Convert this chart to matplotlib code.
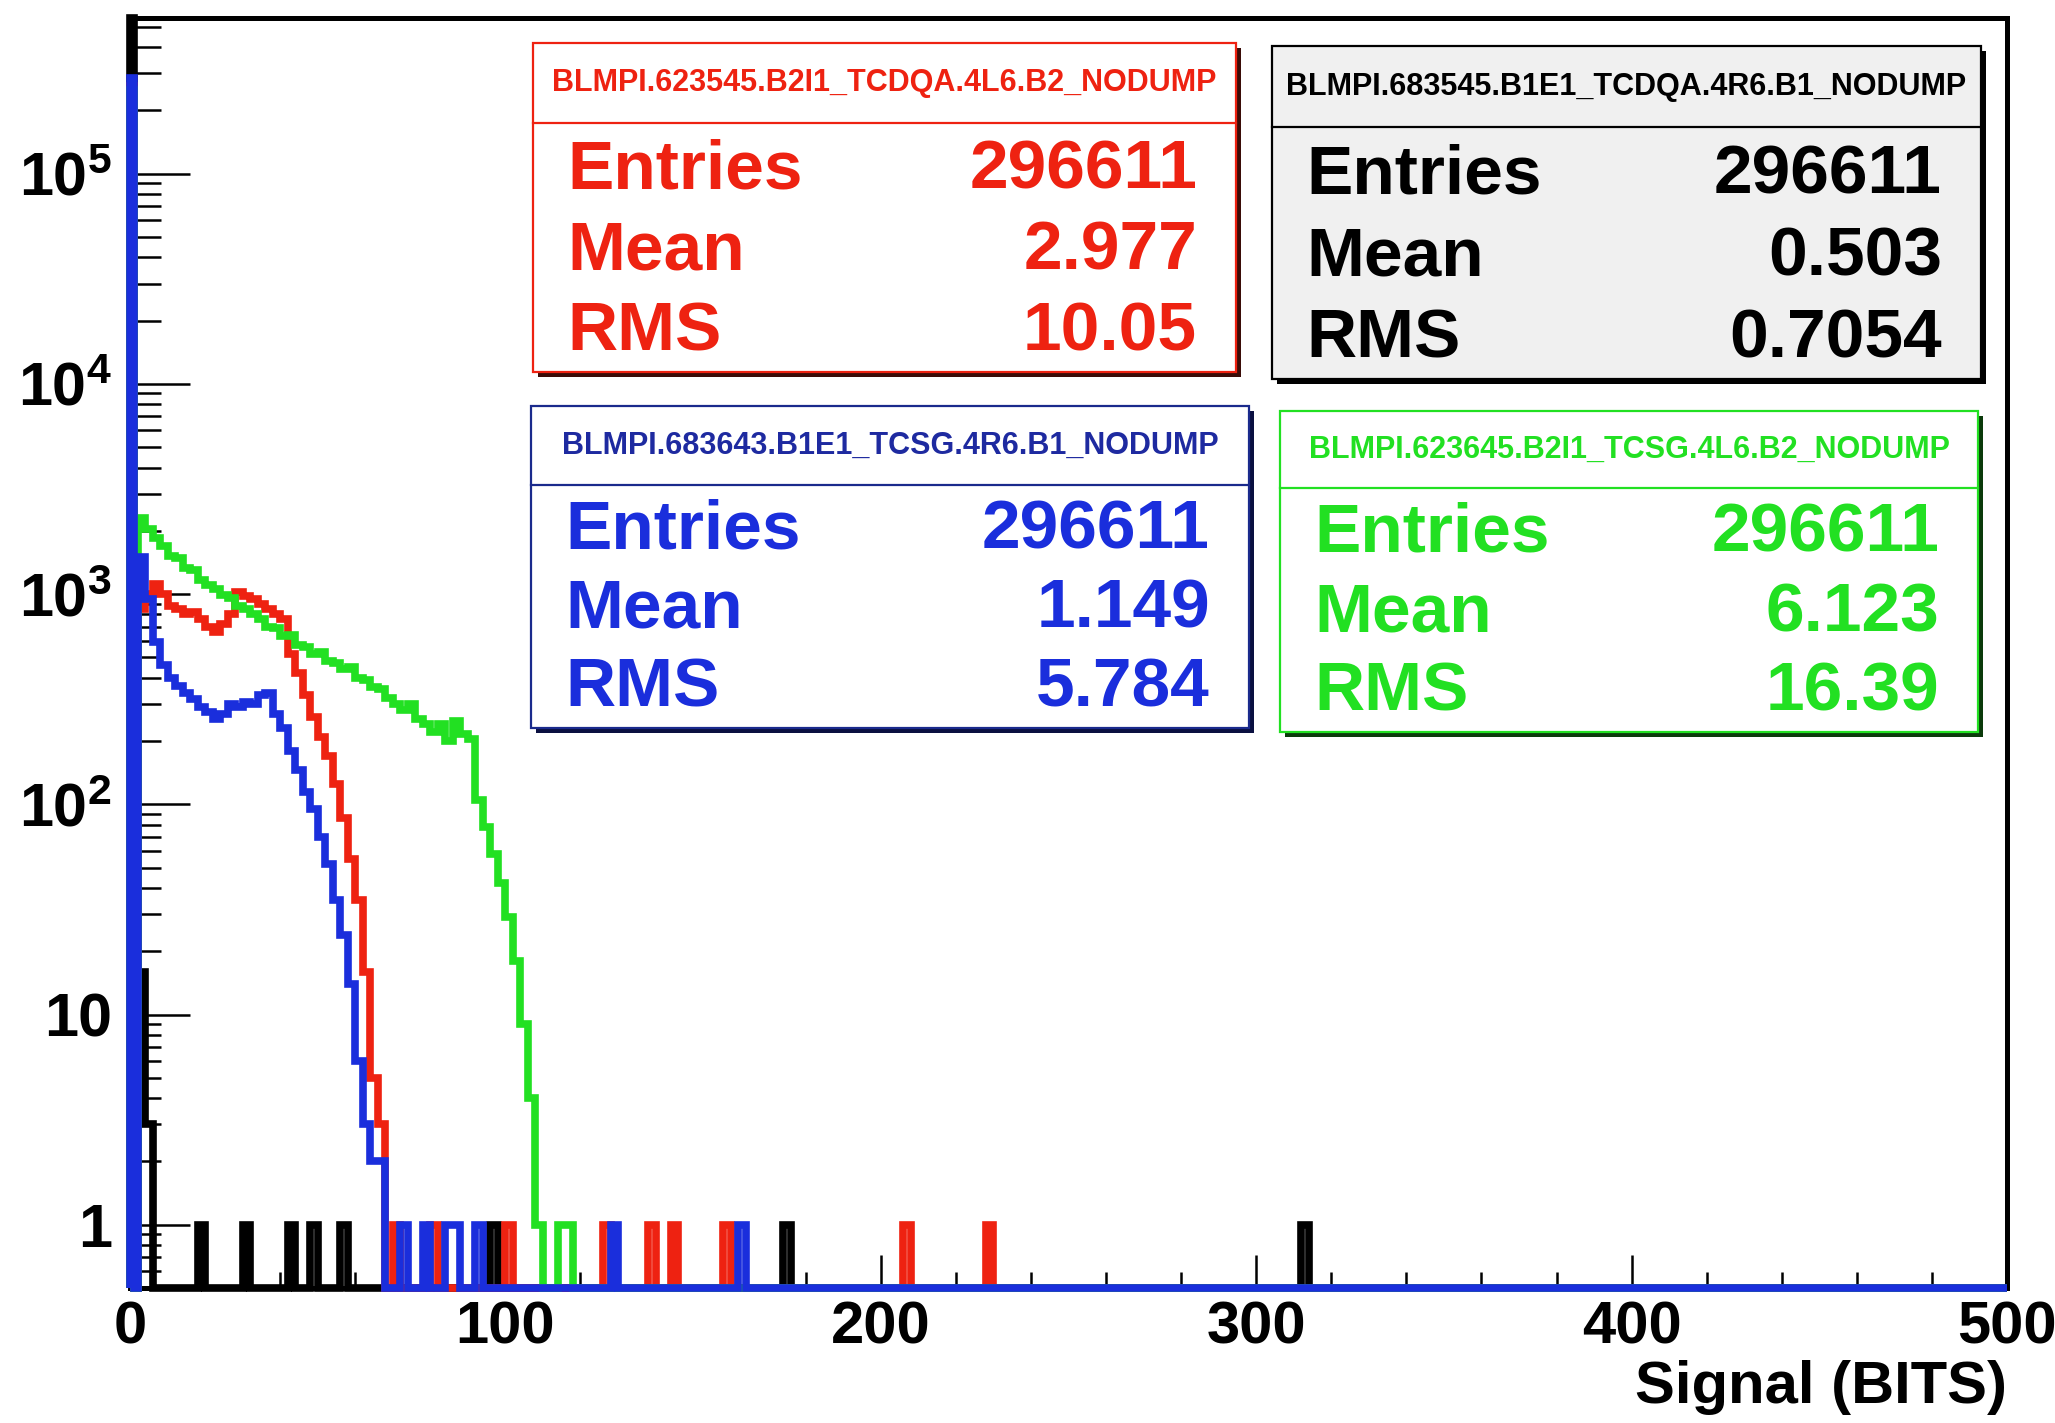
import numpy as np
import matplotlib
matplotlib.use('Agg')
import matplotlib.pyplot as plt
from matplotlib.patches import Rectangle
from matplotlib.ticker import (FixedLocator, FixedFormatter, LogLocator,
                               MultipleLocator, NullFormatter)

plt.rcParams['font.family'] = ['Liberation Sans', 'DejaVu Sans']
plt.rcParams['font.weight'] = 'bold'
plt.rcParams['mathtext.fontset'] = 'custom'
plt.rcParams['mathtext.rm'] = 'Liberation Sans:bold'
plt.rcParams['mathtext.it'] = 'Liberation Sans:bold'
plt.rcParams['mathtext.bf'] = 'Liberation Sans:bold'

# --- histogram data ---
# bins: [0,1), [1,2), then 2-bit bins up to 500
FIRST_EDGES = [0, 1]
BIN_WIDTH = 2
X_MAX = 500
Y_MIN, Y_MAX = 0.5, 5.5e5

# counts of the leading bins ([0,1), [1,2), [2,4), [4,6), ...)
black_head = [550000, 0, 16, 3]
red_head = [260000, 0, 850, 1000, 1120, 1000, 880, 850, 800, 820, 760, 700,
            660, 720, 800, 1020, 980, 950, 900, 850, 800, 760, 520, 420, 330,
            260, 210, 170, 125, 86, 55, 35, 16, 5, 3]
green_head = [250000, 0, 2300, 2050, 1850, 1700, 1520, 1480, 1330, 1300, 1170,
              1110, 1060, 990, 960, 880, 850, 800, 760, 700, 690, 630, 640,
              575, 560, 520, 530, 480, 470, 440, 450, 400, 390, 360, 355, 320,
              300, 280, 300, 255, 240, 220, 240, 200, 250, 215, 205, 105, 78,
              58, 42, 29, 18, 9, 4, 1]
blue_head = [285000, 0, 1500, 950, 590, 460, 400, 365, 340, 317, 290, 275,
             255, 270, 300, 290, 305, 300, 330, 340, 270, 230, 180, 145, 115,
             95, 70, 52, 35, 24, 14, 6, 3, 2, 2]

# lower bin edges of isolated single-entry bins
black_single = [18, 30, 42, 48, 56, 96, 174, 312]
red_single = [70, 80, 100, 126, 138, 144, 158, 206, 228]
green_single = [114, 116]
blue_single = [72, 78, 84, 86, 92, 128, 162]

# stat boxes
box_names = ['BLMPI.623545.B2I1_TCDQA.4L6.B2_NODUMP',
             'BLMPI.683545.B1E1_TCDQA.4R6.B1_NODUMP',
             'BLMPI.683643.B1E1_TCSG.4R6.B1_NODUMP',
             'BLMPI.623645.B2I1_TCSG.4L6.B2_NODUMP']
box_entries = ['296611', '296611', '296611', '296611']
box_means = ['2.977', '0.503', '1.149', '6.123']
box_rms = ['10.05', '0.7054', '5.784', '16.39']

x_ticks = [0, 100, 200, 300, 400, 500]
y_ticks = [1, 10, 1e2, 1e3, 1e4, 1e5]
y_tick_labels = ['1', '10', r'$10^{2}$', r'$10^{3}$', r'$10^{4}$', r'$10^{5}$']

RED = '#ee2211'
GREEN = '#22e022'
BLUE = '#1a2edc'

W, H = 2055, 1423


def fx(px):
    return px / W


def fy(py):
    return 1 - py / H


edges = np.array(FIRST_EDGES + list(range(2, X_MAX + BIN_WIDTH, BIN_WIDTH)))


def build(head, singles):
    counts = np.zeros(len(edges) - 1)
    counts[:len(head)] = head
    for e in singles:
        counts[np.searchsorted(edges, e, side='right') - 1] = 1
    return counts


fig = plt.figure(figsize=(W / 100, H / 100), dpi=100)
fig.patch.set_facecolor('white')
ax = fig.add_axes([fx(130), fy(1288), (2007 - 130) / W, (1288 - 18) / H])

hists = [(black_head, black_single, 'black'),
         (red_head, red_single, RED),
         (green_head, green_single, GREEN),
         (blue_head, blue_single, BLUE)]
for z, (head, singles, col) in enumerate(hists):
    vals = np.maximum(build(head, singles), Y_MIN)
    ax.stairs(vals, edges, baseline=Y_MIN, color=col, lw=5.5, clip_on=False,
              zorder=3 + z)

ax.set_yscale('log')
ax.set_xlim(0, X_MAX)
ax.set_ylim(Y_MIN, Y_MAX)

ax.xaxis.set_major_locator(FixedLocator(x_ticks))
ax.xaxis.set_minor_locator(MultipleLocator(20))
ax.yaxis.set_major_locator(FixedLocator(y_ticks))
ax.yaxis.set_major_formatter(FixedFormatter(y_tick_labels))
ax.yaxis.set_minor_locator(LogLocator(base=10, subs=np.arange(2, 10), numticks=30))
ax.yaxis.set_minor_formatter(NullFormatter())

ax.tick_params(axis='x', which='major', direction='in', length=24, width=1.8,
               labelsize=43, pad=9)
ax.tick_params(axis='x', which='minor', direction='in', length=11.5, width=1.8)
ax.tick_params(axis='y', which='major', direction='in', length=43, width=1.8,
               labelsize=44, pad=13)
ax.tick_params(axis='y', which='minor', direction='in', length=22, width=1.8)
for s in ax.spines.values():
    s.set_linewidth(3.6)

ax.set_xlabel('Signal (BITS)', fontsize=43, fontweight='bold', ha='right')
ax.xaxis.set_label_coords(1.0, -0.057)
ax.xaxis.label.set_va('top')

# --- stat boxes (pixel geometry of the original canvas) ---
boxes = [
    dict(l=533, t=43, r=1236, b=372, sep=123, edge=RED, face='white',
         head=RED, text=RED, shadow='#3a0c08'),
    dict(l=1272, t=46, r=1981, b=379, sep=127, edge='black', face='#f0f0f0',
         head='black', text='black', shadow='black'),
    dict(l=531, t=406, r=1249, b=728, sep=485, edge='#1a2a8c', face='white',
         head='#1e2aa0', text=BLUE, shadow='#0a1040'),
    dict(l=1280, t=411, r=1978, b=732, sep=488, edge=GREEN, face='white',
         head=GREEN, text=GREEN, shadow='#0b3a0b'),
]
for i, bx in enumerate(boxes):
    l, t, r, b, sep = bx['l'], bx['t'], bx['r'], bx['b'], bx['sep']
    fig.patches.append(Rectangle((fx(l + 5), fy(b + 5)), (r - l) / W, (b - t) / H,
                                 transform=fig.transFigure, facecolor=bx['shadow'],
                                 edgecolor='none', zorder=10))
    fig.patches.append(Rectangle((fx(l), fy(b)), (r - l) / W, (b - t) / H,
                                 transform=fig.transFigure, facecolor=bx['face'],
                                 edgecolor=bx['edge'], lw=1.6, zorder=11))
    fig.add_artist(plt.Line2D([fx(l), fx(r)], [fy(sep), fy(sep)],
                              transform=fig.transFigure, color=bx['edge'],
                              lw=1.6, zorder=12))
    fig.text(fx((l + r) / 2), fy((t + sep) / 2), box_names[i], fontsize=22,
             fontweight='bold', color=bx['head'], ha='center', va='center',
             zorder=13)
    rows = [('Entries', box_entries[i]), ('Mean', box_means[i]),
            ('RMS', box_rms[i])]
    for frac, (lab, val) in zip([0.262, 0.588, 0.913], rows):
        yb = sep + frac * (b - sep)
        fig.text(fx(l + 34), fy(yb), lab, fontsize=50, fontweight='bold',
                 color=bx['text'], ha='left', va='baseline', zorder=13)
        fig.text(fx(r - 39), fy(yb), val, fontsize=50, fontweight='bold',
                 color=bx['text'], ha='right', va='baseline', zorder=13)

fig.savefig('out.png', dpi=100, facecolor='white')
